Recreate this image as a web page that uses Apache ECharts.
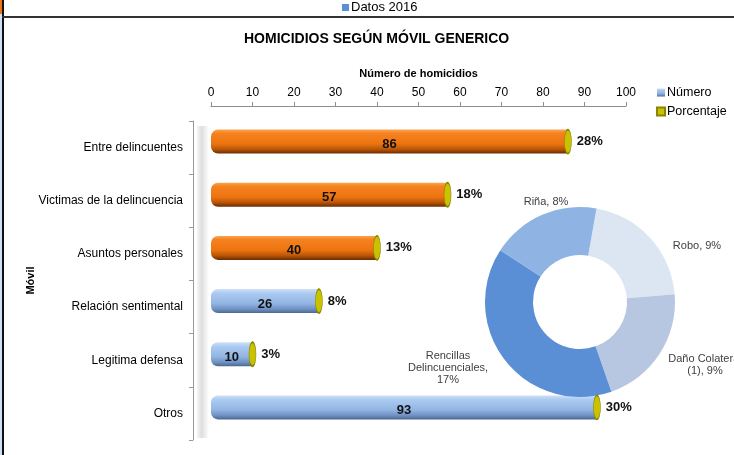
<!DOCTYPE html>
<html>
<head>
<meta charset="utf-8">
<script src="https://cdn.jsdelivr.net/npm/echarts@6/dist/echarts.min.js"></script>
<style>html,body{margin:0;padding:0;background:#fff}#c{width:734px;height:455px}</style>
</head>
<body>
<div id="c"></div>
<script>
const categories = ['Entre delincuentes','Victimas de la delincuencia','Asuntos personales','Relación sentimental','Legitima defensa','Otros'];
const numero = [86, 57, 40, 26, 10, 93];
const porcentaje = [28, 18, 13, 8, 3, 30];
const orangeCount = 3;
const xMin = 0, xMax = 100, xStep = 10;
const pieNames = ['Robo', 'Daño Colateral (1)', 'Rencillas Delincuenciales', 'Riña'];
const pieValues = [9, 9, 17, 8];
const pieColors = ['#dce6f2', '#b7c6e1', '#5a8fd5', '#8fb4e3'];
const pieWrap = {'Daño Colateral (1)': 'Daño Colateral\n(1)', 'Rencillas Delincuenciales': 'Rencillas\nDelincuenciales,\n'};

const FONT = 'Liberation Sans, Arial, sans-serif';
const grad = (stops) => new echarts.graphic.LinearGradient(0, 0, 0, 1, stops.map((c) => ({offset: c[0], color: c[1]})));
const orange = grad([[0,'#f8a653'],[0.15,'#f58220'],[0.6,'#ec740f'],[0.82,'#b95507'],[1,'#6a2c00']]);
const blue = grad([[0,'#cfe0f6'],[0.18,'#abcaf1'],[0.6,'#92b5e3'],[0.84,'#6e90c2'],[1,'#4b6790']]);
// label anchor spots for the donut labels (layout only)
const pieLabelSpots = [[697, 246], [705, 365], [448, 368], [546, 202]];

const chart = echarts.init(document.getElementById('c'), null, {renderer: 'canvas'});
chart.setOption({
  animation: false,
  backgroundColor: '#fff',
  textStyle: {fontFamily: FONT},
  title: {
    text: 'HOMICIDIOS SEGÚN MÓVIL GENERICO', left: 239, top: 27,
    textStyle: {fontSize: 14, fontWeight: 'bold', color: '#000', fontFamily: FONT}
  },
  legend: {
    left: 651, top: 81, orient: 'vertical', itemWidth: 8, itemHeight: 8, itemGap: 6,
    textStyle: {fontSize: 12.5, color: '#000', fontFamily: FONT, padding: [0,0,0,-3]},
    data: [{name: 'Número', icon: 'rect'}, {name: 'Porcentaje', icon: 'rect'}]
  },
  graphic: [
    {type: 'rect', shape: {x: 0, y: 0, width: 2, height: 455}, style: {fill: '#cfe0f4'}},
    {type: 'rect', shape: {x: 0, y: 0, width: 2, height: 14}, style: {fill: '#e8780f'}},
    {type: 'rect', shape: {x: 2, y: 0, width: 2, height: 455}, style: {fill: '#111'}},
    {type: 'rect', shape: {x: 2, y: 16, width: 732, height: 2}, style: {fill: '#333'}},
    {type: 'rect', shape: {x: 342, y: 4, width: 7, height: 7}, style: {fill: '#5b8fd8'}},
    {type: 'text', x: 351, y: 1, style: {text: 'Datos 2016', fontSize: 13, fill: '#000', fontFamily: FONT}},
    {type: 'rect', z: -1, shape: {x: 197, y: 126, width: 12, height: 312},
      style: {fill: new echarts.graphic.LinearGradient(0, 0, 1, 0, [{offset: 0, color: 'rgba(0,0,0,0.04)'}, {offset: 0.4, color: 'rgba(0,0,0,0.13)'}, {offset: 1, color: 'rgba(0,0,0,0)'}])}}
  ],
  grid: [
    {left: 193, right: 108, top: 121, bottom: 15},
    {left: 211, right: 108, top: 115, bottom: 21}
  ],
  xAxis: [
    {gridIndex: 0, type: 'value', min: xMin, max: xMax, show: false, splitLine: {show: false}},
    {
      gridIndex: 1, type: 'value', position: 'top', offset: 9, min: xMin, max: xMax, interval: xStep,
      name: 'Número de homicidios', nameLocation: 'middle', nameGap: 27,
      nameTextStyle: {fontSize: 11, fontWeight: 'bold', color: '#000', fontFamily: FONT},
      axisLine: {show: true, lineStyle: {color: '#8c8c8c', width: 1}},
      axisTick: {show: true, length: 4, lineStyle: {color: '#8c8c8c'}},
      axisLabel: {fontSize: 12, color: '#000', margin: 7, fontFamily: FONT},
      splitLine: {show: false}
    }
  ],
  yAxis: [
    {
      gridIndex: 0, type: 'category', data: categories, inverse: true,
      name: 'Móvil', nameLocation: 'middle', nameRotate: 90, nameGap: 157, nameMoveOverlap: false,
      nameTextStyle: {fontSize: 11, fontWeight: 'bold', color: '#000', fontFamily: FONT},
      axisLine: {show: true, lineStyle: {color: '#9a9a9a'}},
      axisTick: {show: true, length: 4, lineStyle: {color: '#9a9a9a'}},
      axisLabel: {fontSize: 12, color: '#000', margin: 10, fontFamily: FONT}
    },
    {gridIndex: 1, type: 'category', data: categories, inverse: true, show: false}
  ],
  series: [
    {
      name: 'Número', type: 'bar', xAxisIndex: 1, yAxisIndex: 1, barWidth: 24,
      itemStyle: {color: blue, borderRadius: [7, 0, 0, 7]},
      data: numero.map((v, i) => i < orangeCount ? {value: v, itemStyle: {color: orange}} : v),
      label: {show: true, position: 'inside', offset: [0, 3], fontSize: 13, fontWeight: 'bold', color: '#111', fontFamily: FONT}
    },
    {
      name: 'Porcentaje', type: 'scatter', xAxisIndex: 1, yAxisIndex: 1, symbol: 'circle', symbolSize: [7, 24], z: 5,
      itemStyle: {color: '#c9c200', borderColor: '#8a8400', borderWidth: 1, opacity: 1},
      data: numero.map((v, i) => [v, i]),
      label: {show: true, position: 'right', distance: 5, fontSize: 13, fontWeight: 'bold', color: '#111', fontFamily: FONT,
        formatter: p => porcentaje[p.dataIndex] + '%'}
    },
    {
      name: 'Movil generico', type: 'pie', center: [580, 302], radius: [47, 95], startAngle: 80, clockwise: true,
      avoidLabelOverlap: false, legendHoverLink: false,
      data: pieNames.map((n, i) => ({name: n, value: pieValues[i], itemStyle: {color: pieColors[i]}})),
      label: {show: true, position: 'outside', fontSize: 11, color: '#404040', fontFamily: FONT, lineHeight: 12, align: 'center',
        formatter: p => (pieWrap[p.name] ? pieWrap[p.name] + (pieWrap[p.name].endsWith('\n') ? '' : ', ') : p.name + ', ') + p.value + '%'},
      labelLine: {show: false},
      labelLayout: p => ({x: pieLabelSpots[p.dataIndex][0], y: pieLabelSpots[p.dataIndex][1], align: 'center', verticalAlign: 'middle'})
    }
  ]
});
</script>
</body>
</html>
